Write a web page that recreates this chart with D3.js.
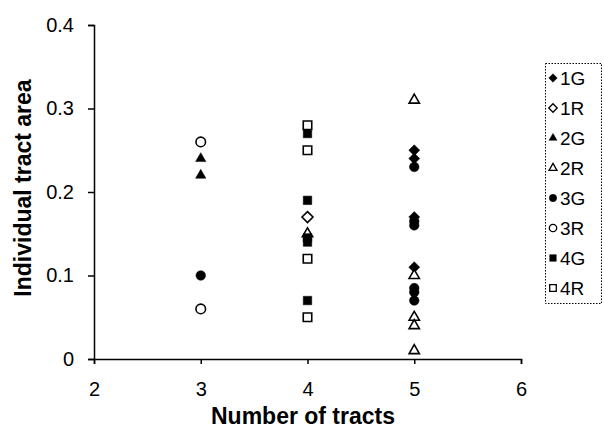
<!DOCTYPE html>
<head>
  <meta charset="utf-8">
  <script src="https://d3js.org/d3.v7.min.js"></script>
  <style>
    body{ margin: 0; background: #fff; }
    text{ font-family: "Liberation Sans", Arial, sans-serif; fill: #000; }
    .tick text{ font-size: 20px; }
    text.axisTitle{ font-size: 23px; font-weight: 700; }
    text.legendLabel{ font-size: 19px; }
    path.domain, .tick line{ stroke: #000; stroke-width: 1.5; }
  </style>
</head>
<body>
<script>
  // series names, shown in the legend
  var seriesNames = ["1G", "1R", "2G", "2R", "3G", "3R", "4G", "4R"];

  // points as [number of tracts, individual tract area]
  var s1G = [[5, 0.25], [5, 0.24], [5, 0.17], [5, 0.11]];
  var s1R = [[4, 0.17]];
  var s2G = [[3, 0.24], [3, 0.22]];
  var s2R = [[4, 0.15], [5, 0.31], [5, 0.10], [5, 0.05], [5, 0.04], [5, 0.01]];
  var s3G = [[3, 0.10], [5, 0.23], [5, 0.165], [5, 0.16], [5, 0.085], [5, 0.08], [5, 0.07]];
  var s3R = [[3, 0.26], [3, 0.06]];
  var s4G = [[4, 0.27], [4, 0.19], [4, 0.145], [4, 0.14], [4, 0.07]];
  var s4R = [[4, 0.28], [4, 0.25], [4, 0.12], [4, 0.05]];

  var xTicks = [2, 3, 4, 5, 6];
  var yTicks = [0, 0.1, 0.2, 0.3, 0.4];

  var seriesData = [s1G, s1R, s2G, s2R, s3G, s3R, s4G, s4R];
  var shapeNames = ["diamond", "diamond", "triangle", "triangle", "circle", "circle", "square", "square"];
  var filled = [true, false, true, false, true, false, true, false];

  // a diamond as wide as it is tall (d3's own is stretched)
  var squareDiamond = {
    draw: function(ctx, size) {
      var r = Math.sqrt(size / 2);
      ctx.moveTo(0, -r); ctx.lineTo(r, 0); ctx.lineTo(0, r); ctx.lineTo(-r, 0); ctx.closePath();
    }
  };
  var symbolTypes = {
    diamond: squareDiamond,
    triangle: d3.symbolTriangle,
    circle: d3.symbolCircle,
    square: d3.symbolSquare
  };
  var markerSize = { diamond: 60, triangle: 46, circle: 72, square: 72 };

  var width = 604, height = 428;
  var svg = d3.select("body").append("svg")
    .attr("width", width)
    .attr("height", height);

  var x = d3.scaleLinear().domain([2, 6]).range([94, 521]);
  var y = d3.scaleLinear().domain([0, 0.4]).range([359, 25]);

  // axes
  svg.append("g")
    .attr("transform", "translate(0,359)")
    .call(d3.axisBottom(x).tickValues(xTicks).tickSize(5).tickSizeOuter(5).tickPadding(18)
      .tickFormat(d3.format("d")));

  svg.append("g")
    .attr("transform", "translate(94,0)")
    .call(d3.axisLeft(y).tickValues(yTicks).tickSize(6).tickSizeOuter(6).tickPadding(14)
      .tickFormat(d => d === 0 ? "0" : d3.format(".1f")(d)));

  // axis titles
  svg.append("text")
    .attr("class", "axisTitle")
    .attr("x", 303)
    .attr("y", 424)
    .attr("text-anchor", "middle")
    .text("Number of tracts");

  svg.append("text")
    .attr("class", "axisTitle")
    .attr("transform", "translate(31,188) rotate(-90)")
    .attr("text-anchor", "middle")
    .text("Individual tract area");

  // points
  seriesData.forEach(function(pts, i) {
    var kind = shapeNames[i];
    var sym = d3.symbol().type(symbolTypes[kind]).size(markerSize[kind]);
    svg.append("g").selectAll("path")
      .data(pts)
      .enter()
      .append("path")
      .attr("d", sym)
      .attr("transform", d => `translate(${x(d[0])},${y(d[1])})`)
      .style("fill", filled[i] ? "#000" : "#fff")
      .style("stroke", "#000")
      .style("stroke-width", filled[i] ? 0.5 : 1.6);
  });

  // legend
  var legend = svg.append("g");
  legend.append("rect")
    .attr("x", 545.5)
    .attr("y", 63.5)
    .attr("width", 56)
    .attr("height", 240)
    .style("fill", "none")
    .style("stroke", "#000")
    .style("stroke-dasharray", "1.5,1.5");

  var legendY = d3.scalePoint().domain(seriesNames).range([78, 288]);

  seriesNames.forEach(function(name, i) {
    var kind = shapeNames[i];
    var sym = d3.symbol().type(symbolTypes[kind]).size(markerSize[kind] * 0.6);
    legend.append("path")
      .attr("d", sym)
      .attr("transform", `translate(553,${legendY(name)})`)
      .style("fill", filled[i] ? "#000" : "#fff")
      .style("stroke", "#000")
      .style("stroke-width", filled[i] ? 0.5 : 1.3);
    legend.append("text")
      .attr("class", "legendLabel")
      .attr("x", 560)
      .attr("y", legendY(name) + 7)
      .text(name);
  });
</script>
</body>
